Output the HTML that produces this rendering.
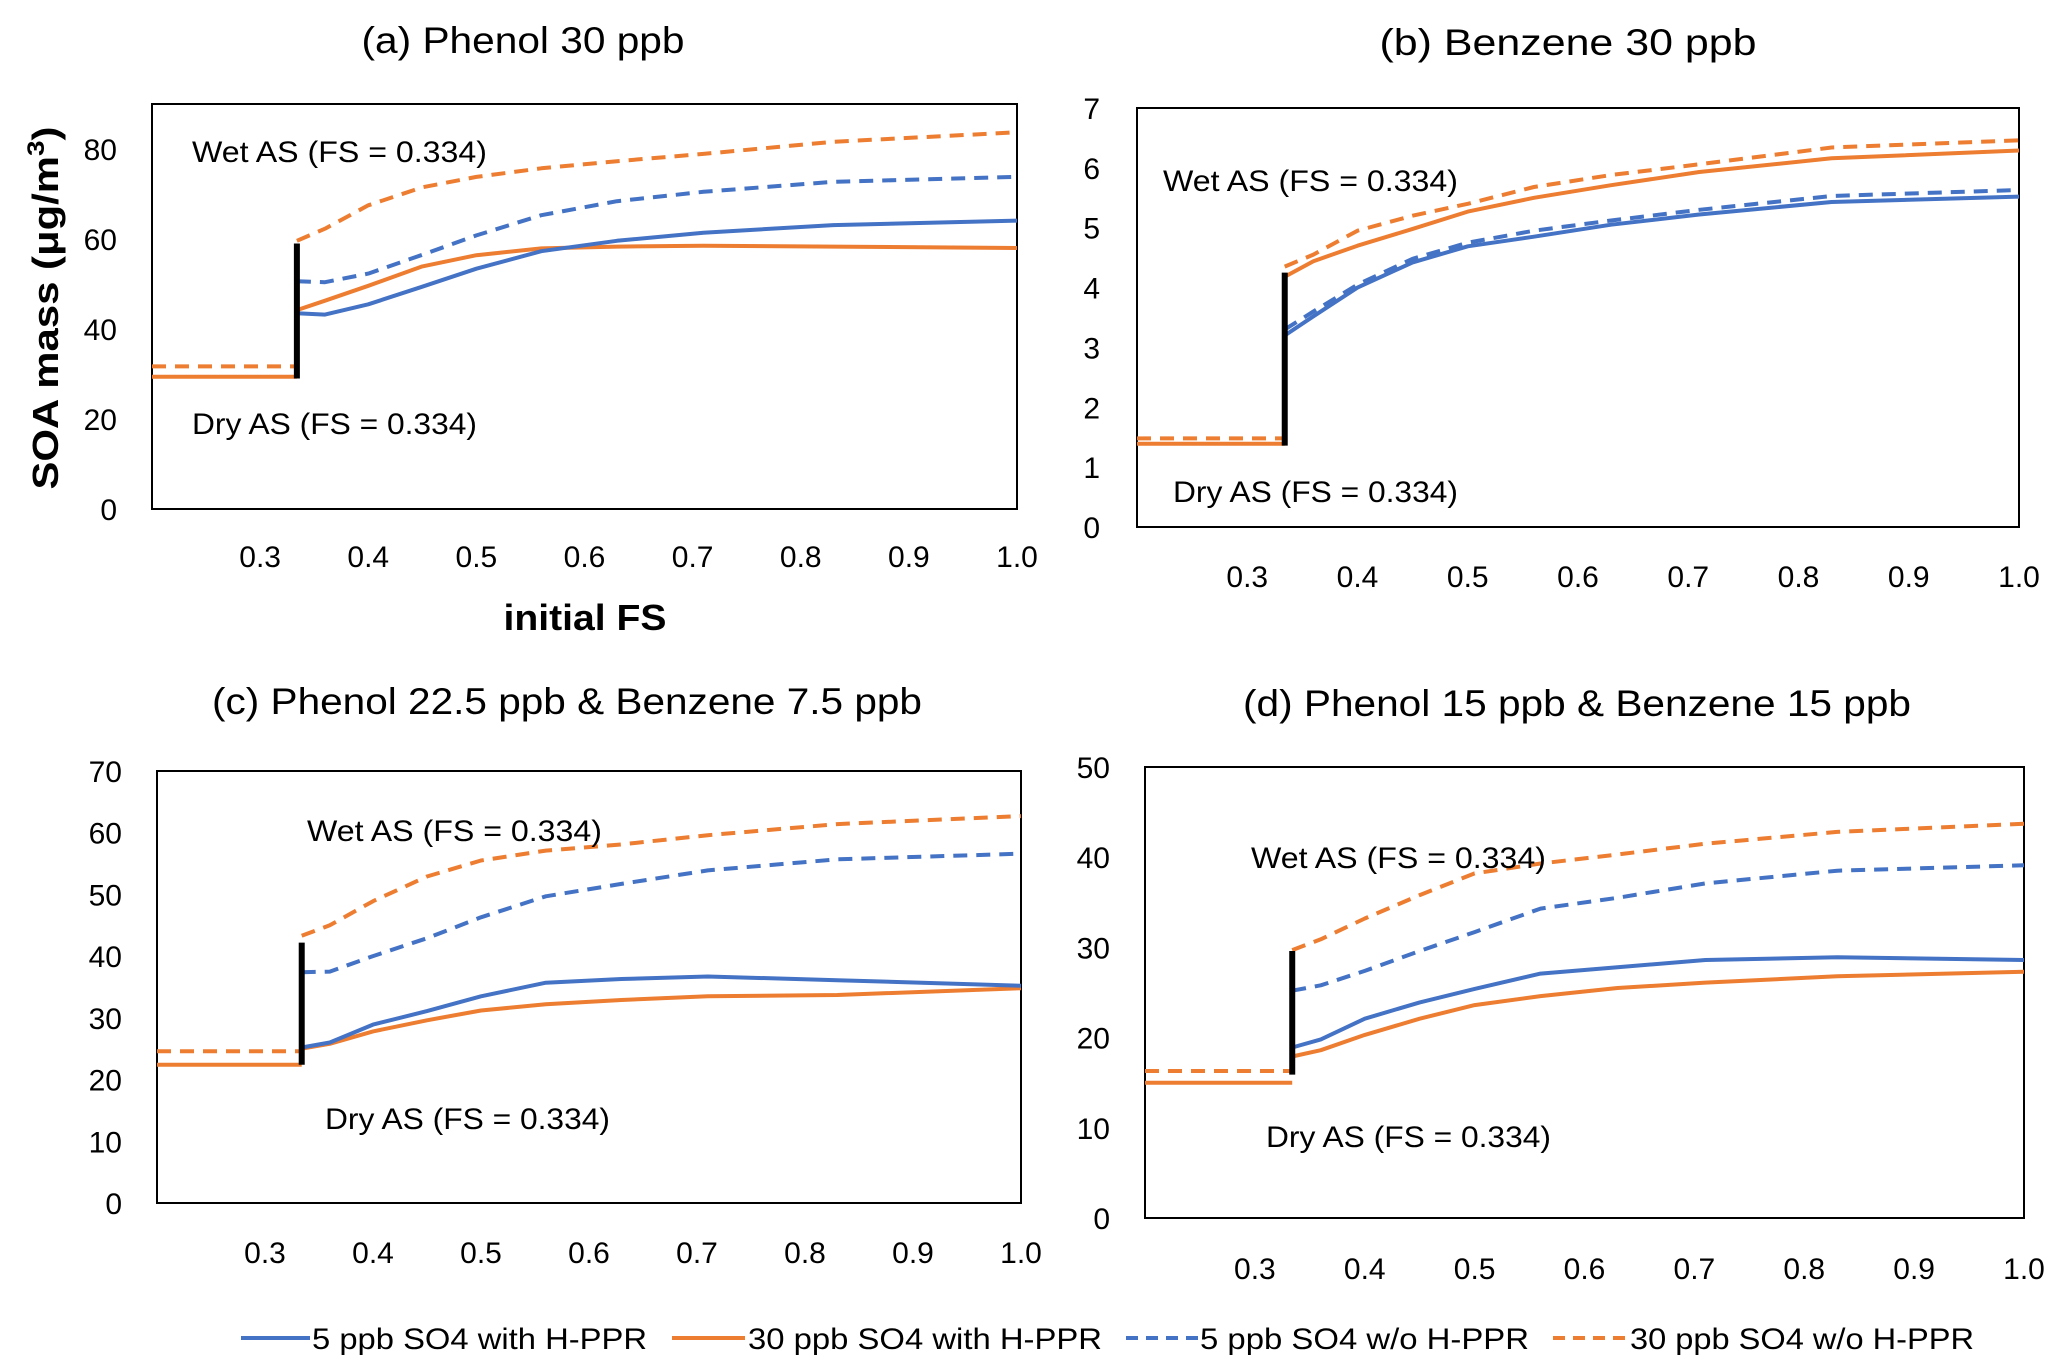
<!DOCTYPE html>
<html><head><meta charset="utf-8"><style>
html,body{margin:0;padding:0;background:#fff;}
svg{display:block;font-family:"Liberation Sans",sans-serif;}
</style></head><body>
<svg id="chart" width="2067" height="1372" viewBox="0 0 2067 1372"></svg>
<script>
const xs = [0.334,0.36,0.4,0.45,0.5,0.56,0.63,0.71,0.83,1.0];
const dryXs = [0.2,0.334];
const xTicks = [0.3,0.4,0.5,0.6,0.7,0.8,0.9,1.0];
const xTickLabels = ["0.3","0.4","0.5","0.6","0.7","0.8","0.9","1.0"];
const seriesNames = ["5 ppb SO4 with H-PPR","30 ppb SO4 with H-PPR","5 ppb SO4 w/o H-PPR","30 ppb SO4 w/o H-PPR"];
// panel a
const aBlueSolid = [43.5,43.2,45.5,49.4,53.4,57.3,59.6,61.4,63.1,64.1];
const aOrangeSolid = [44.2,46.3,49.6,53.9,56.4,57.9,58.3,58.5,58.3,58.0];
const aBlueDash = [50.6,50.4,52.3,56.5,60.8,65.3,68.4,70.5,72.7,73.8];
const aOrangeDash = [59.6,62.3,67.5,71.5,73.8,75.7,77.3,78.9,81.6,83.7];
const aDry = [29.4,31.7];
const aJump = [29,59];
const aYTicks = [0,20,40,60,80];
// panel b
const bBlueSolid = [3.2,3.52,4.0,4.42,4.69,4.85,5.05,5.22,5.43,5.52];
const bOrangeSolid = [4.18,4.44,4.7,4.98,5.27,5.5,5.71,5.93,6.16,6.29];
const bBlueDash = [3.3,3.6,4.05,4.48,4.75,4.95,5.12,5.3,5.53,5.63];
const bOrangeDash = [4.35,4.55,4.95,5.2,5.4,5.68,5.88,6.06,6.34,6.46];
const bDry = [1.39,1.48];
const bJump = [1.36,4.25];
const bYTicks = [0,1,2,3,4,5,6,7];
// panel c
const cBlueSolid = [25.2,26.0,28.9,31.1,33.5,35.7,36.3,36.7,36.1,35.2];
const cOrangeSolid = [25.0,25.8,27.8,29.6,31.2,32.2,32.9,33.5,33.7,34.8];
const cBlueDash = [37.4,37.5,40.0,42.9,46.3,49.7,51.7,53.9,55.7,56.6];
const cOrangeDash = [43.3,45.0,48.9,52.9,55.5,57.1,58.1,59.6,61.4,62.7];
const cDry = [22.4,24.6];
const cJump = [22.4,42.2];
const cYTicks = [0,10,20,30,40,50,60,70];
// panel d
const dBlueSolid = [18.9,19.8,22.1,23.9,25.4,27.1,27.8,28.6,28.9,28.6];
const dOrangeSolid = [17.9,18.6,20.3,22.1,23.6,24.6,25.5,26.1,26.8,27.3];
const dBlueDash = [25.2,25.8,27.4,29.6,31.7,34.3,35.5,37.1,38.5,39.1];
const dOrangeDash = [29.7,30.9,33.2,35.8,38.2,39.3,40.3,41.5,42.8,43.7];
const dDry = [15.0,16.3];
const dJump = [15.9,29.6];
const dYTicks = [0,10,20,30,40,50];

const NS="http://www.w3.org/2000/svg";
const svg=document.getElementById('chart');
const BLUE="#4472C4", ORANGE="#ED7D31";
function mk(tag,attrs,parent){const e=document.createElementNS(NS,tag);for(const k in attrs)e.setAttribute(k,attrs[k]);(parent||svg).appendChild(e);return e;}

const panels=[
 {id:'a',title:'(a) Phenol 30 ppb',tc:523,ty:53,tw:323,L:152,R:1017,T:104,B:509,ymax:90,yt:aYTicks,ylx:117,xly:567,wet:[192,162],dry:[192,434],bs:aBlueSolid,os:aOrangeSolid,bd:aBlueDash,od:aOrangeDash,dr:aDry,j:aJump},
 {id:'b',title:'(b) Benzene 30 ppb',tc:1568,ty:55,tw:377,L:1137,R:2019,T:108,B:527,ymax:7,yt:bYTicks,ylx:1100,xly:587,wet:[1163,191],dry:[1173,502],bs:bBlueSolid,os:bOrangeSolid,bd:bBlueDash,od:bOrangeDash,dr:bDry,j:bJump},
 {id:'c',title:'(c) Phenol 22.5 ppb & Benzene 7.5 ppb',tc:567,ty:714,tw:710,L:157,R:1021,T:771,B:1203,ymax:70,yt:cYTicks,ylx:122,xly:1263,wet:[307,841],dry:[325,1129],bs:cBlueSolid,os:cOrangeSolid,bd:cBlueDash,od:cOrangeDash,dr:cDry,j:cJump},
 {id:'d',title:'(d) Phenol 15 ppb & Benzene 15 ppb',tc:1577,ty:716,tw:668,L:1145,R:2024,T:767,B:1218,ymax:50,yt:dYTicks,ylx:1110,xly:1279,wet:[1251,868],dry:[1266,1147],bs:dBlueSolid,os:dOrangeSolid,bd:dBlueDash,od:dOrangeDash,dr:dDry,j:dJump}
];

panels.forEach(p=>{
  const g=mk('g',{});
  
  
  const X=v=>p.L+(v-0.2)/0.8*(p.R-p.L);
  const Y=v=>p.B-v/p.ymax*(p.B-p.T);
  const t=mk('text',{x:p.tc,y:p.ty,'text-anchor':'middle','font-size':37,textLength:p.tw,lengthAdjust:'spacingAndGlyphs',fill:'#000'},g);
  t.textContent=p.title;
  
  
  const box=mk('rect',{x:p.L,y:p.T,width:p.R-p.L,height:p.B-p.T,fill:'none',stroke:'#000','stroke-width':2},g);
  
  
  p.yt.forEach(v=>{
    const tl=mk('text',{x:p.ylx,y:Y(v)+11,'text-anchor':'end','font-size':30,fill:'#000'},g);
    tl.textContent=String(v);
    
    
  });
  xTicks.forEach((v,i)=>{
    const tl=mk('text',{x:X(v),y:p.xly,'text-anchor':'middle','font-size':30,fill:'#000'},g);
    tl.textContent=xTickLabels[i];
    
    
  });
  const line=(vals,xv,color,dash,name)=>{
    const d=vals.map((v,i)=>(i?'L':'M')+X(xv[i]).toFixed(1)+' '+Y(v).toFixed(1)).join(' ');
    const a={d:d,fill:'none',stroke:color,'stroke-width':4,'stroke-linejoin':'round'};
    if(dash)a['stroke-dasharray']='14 9';
    const e=mk('path',a,g);
    
    
  };
  line([p.dr[1],p.dr[1]],dryXs,ORANGE,true,'dry-30ppb-without-hppr');
  line([p.dr[0],p.dr[0]],dryXs,ORANGE,false,'dry-30ppb-with-hppr');
  line(p.od,xs,ORANGE,true,'series-30ppb-without-hppr');
  line(p.bd,xs,BLUE,true,'series-5ppb-without-hppr');
  line(p.os,xs,ORANGE,false,'series-30ppb-with-hppr');
  line(p.bs,xs,BLUE,false,'series-5ppb-with-hppr');
  const jl=mk('line',{x1:X(0.334),x2:X(0.334),y1:Y(p.j[0]),y2:Y(p.j[1]),stroke:'#000','stroke-width':6},g);
  
  
  const w=mk('text',{x:p.wet[0],y:p.wet[1],'font-size':30,textLength:295,lengthAdjust:'spacingAndGlyphs',fill:'#000'},g);
  w.textContent='Wet AS (FS = 0.334)';
  
  
  const dd=mk('text',{x:p.dry[0],y:p.dry[1],'font-size':30,textLength:285,lengthAdjust:'spacingAndGlyphs',fill:'#000'},g);
  dd.textContent='Dry AS (FS = 0.334)';
  
  
});

const yt=mk('text',{x:0,y:0,transform:'translate(58,308) rotate(-90)','text-anchor':'middle','font-size':36,'font-weight':'bold',textLength:363,lengthAdjust:'spacingAndGlyphs',fill:'#000'});
yt.innerHTML='SOA mass (μg/m<tspan font-size="24" dy="-14">3</tspan><tspan dy="14">)</tspan>';


const xt=mk('text',{x:585,y:630,'text-anchor':'middle','font-size':36,'font-weight':'bold',textLength:163,lengthAdjust:'spacingAndGlyphs',fill:'#000'});
xt.textContent='initial FS';



const legX=[[241,310,312,335],[672,745,748,354],[1126,1198,1200,329],[1553,1625,1630,344]];
const legC=[BLUE,ORANGE,BLUE,ORANGE];
const legD=[false,false,true,true];
const lg=mk('g',{});


seriesNames.forEach((n,i)=>{
  const a={x1:legX[i][0],x2:legX[i][1],y1:1338,y2:1338,stroke:legC[i],'stroke-width':4};
  if(legD[i])a['stroke-dasharray']='12 8';
  const l=mk('line',a,lg);
  
  
  const t=mk('text',{x:legX[i][2],y:1349,'font-size':30,textLength:legX[i][3],lengthAdjust:'spacingAndGlyphs',fill:'#000'},lg);
  t.textContent=n;
  
  
});
</script>
</body></html>
